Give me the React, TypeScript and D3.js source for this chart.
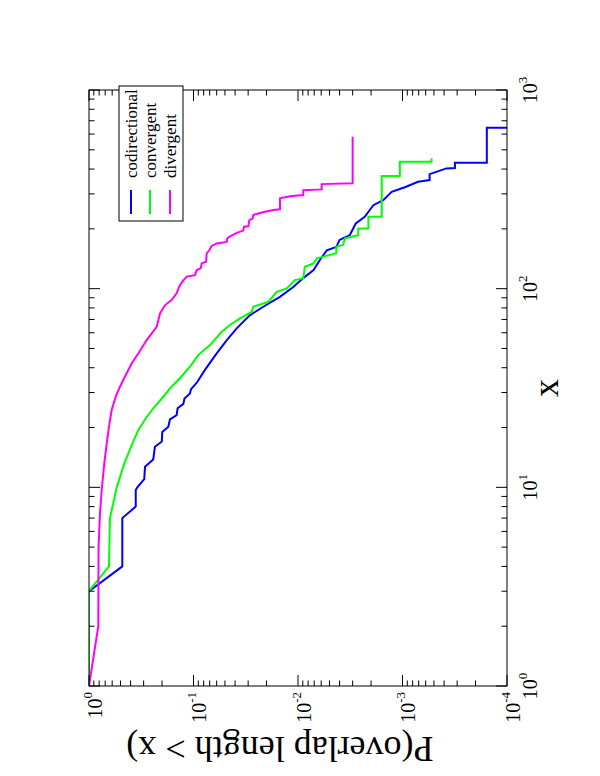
import React from 'react';
import * as d3 from 'd3';

// picture is a landscape xmgrace plot turned 90deg on the page
const W = 600, H = 776;

// [overlap length x, P(overlap length > x)]
const codirectional: [number, number][] = [
  [1, 1], [3, 1], [4, 0.48], [7, 0.48], [8, 0.357], [9.7, 0.357], [10, 0.345], [11, 0.296],
  [12.7, 0.291], [13.8, 0.243], [16, 0.234], [17, 0.201], [19, 0.199], [20.2, 0.174], [22, 0.168],
  [23.1, 0.145], [25, 0.142], [26.3, 0.125], [28, 0.122], [29.7, 0.108], [31.1, 0.106], [33.6, 0.093],
  [38.9, 0.078], [47.2, 0.06], [55.1, 0.048], [63.1, 0.0386], [73.6, 0.0288], [81.1, 0.0215],
  [91, 0.0149], [102, 0.0111], [113, 0.0089], [124, 0.0071], [139, 0.0062], [156, 0.0053],
  [162, 0.0043], [176, 0.004], [186, 0.0032], [213, 0.0028], [230, 0.0023], [263, 0.0019],
  [279, 0.00153], [307, 0.00127], [324, 0.00095], [345, 0.00071], [352, 0.00055], [377, 0.00055],
  [403, 0.00038], [405, 0.000315], [430, 0.000315], [430, 0.000156], [645, 0.000156], [645, 0.00001]
];

const convergent: [number, number][] = [
  [1, 1], [3, 1], [4, 0.644], [7, 0.63], [10, 0.543], [13.2, 0.459], [16.3, 0.39], [19.4, 0.3375],
  [22.2, 0.287], [25, 0.2425], [28, 0.201], [31.5, 0.168], [35.4, 0.135], [40.5, 0.108], [46.3, 0.09],
  [52, 0.0695], [60.7, 0.0537], [65.6, 0.0448], [70.9, 0.0359], [76.5, 0.0277], [81.1, 0.0268],
  [85.9, 0.0192], [96.4, 0.016], [100.3, 0.0128], [110.5, 0.0107], [112.7, 0.0089], [128.9, 0.0086],
  [134.1, 0.0071], [142.1, 0.0066], [150.6, 0.0043], [162.5, 0.0043], [166, 0.0037], [179, 0.00355],
  [182, 0.00318], [186, 0.00265], [201, 0.00265], [201, 0.00212], [230, 0.00212], [230, 0.00158],
  [369, 0.00158], [369, 0.00106], [435, 0.00106], [435, 0.000527], [454, 0.000527]
];

const divergent: [number, number][] = [
  [1, 1], [2, 0.815], [5, 0.81], [7.4, 0.785], [9.7, 0.756], [13.2, 0.714], [16.6, 0.677],
  [20.2, 0.644], [24.5, 0.607], [28.6, 0.555], [32.1, 0.505], [34.7, 0.47], [42.1, 0.39],
  [47.2, 0.3375], [55.1, 0.2805], [59.6, 0.251], [64.3, 0.225], [75.1, 0.209], [82.7, 0.187],
  [87.6, 0.162], [94.7, 0.145], [104, 0.135], [110, 0.125], [115, 0.116], [117, 0.0967],
  [124, 0.0932], [126.5, 0.0853], [134, 0.0835], [136.6, 0.0759], [150.6, 0.0748], [156, 0.0706],
  [164, 0.067], [169, 0.06], [172, 0.0481], [179, 0.0475], [184, 0.0441], [191, 0.0386],
  [196, 0.0334], [205, 0.0329], [206, 0.0299], [221, 0.0292], [226, 0.0271], [235, 0.0268],
  [239, 0.024], [244, 0.0207], [249, 0.0172], [251, 0.01487], [285, 0.01487], [292, 0.01193],
  [296, 0.0089], [313, 0.0089], [316, 0.00593], [336, 0.00593], [339, 0.003], [581, 0.003]
];

const seriesNames = ['codirectional', 'convergent', 'divergent'];
const seriesData = [codirectional, convergent, divergent];
const seriesColors = ['#0000ff', '#00ff00', '#ff00ff'];

const xTickExps = [0, 1, 2, 3];
const yTickExps = [0, -1, -2, -3, -4];

const FONT = '"Liberation Serif", "Times New Roman", serif';

export default function App() {
  // local (unrotated) frame: 776 wide, 600 tall
  const left = 90, right = 686, top = 89, bottom = 507;
  const x = d3.scaleLog().domain([1, 1000]).range([left, right]);
  const y = d3.scaleLog().domain([1e-4, 1]).range([bottom, top]);

  const line = d3.line<[number, number]>()
    .x(d => x(d[0]))
    .y(d => y(d[1]));

  const minor = (lo: number, hi: number) => {
    const out: number[] = [];
    for (let e = lo; e < hi; e++) for (let k = 2; k <= 9; k++) out.push(k * Math.pow(10, e));
    return out;
  };
  const xMinor = minor(0, 3);
  const yMinor = minor(-4, 0);
  const MAJ = 11, MIN = 5.5;

  const legendRows = [131, 150, 170];

  return (
    <svg width={W} height={H} style={{ position: 'absolute', left: 0, top: 0 }} fontFamily={FONT}>
      <rect width={W} height={H} fill="white" />
      <g transform={`translate(0,${H}) rotate(-90)`}>
        <defs>
          <clipPath id="plotclip">
            <rect x={left} y={top} width={right - left} height={bottom - top} />
          </clipPath>
        </defs>

        <g clipPath="url(#plotclip)">
          {seriesData.map((s, i) => (
            <path key={i} d={line(s) || ''} fill="none" stroke={seriesColors[i]} strokeWidth={2} />
          ))}
        </g>

        <g stroke="black" strokeWidth={1}>
          {xTickExps.map(e => {
            const px = x(Math.pow(10, e));
            return (
              <g key={'xM' + e}>
                <line x1={px} x2={px} y1={bottom} y2={bottom - MAJ} />
                <line x1={px} x2={px} y1={top} y2={top + MAJ} />
              </g>
            );
          })}
          {xMinor.map((v, i) => (
            <g key={'xm' + i}>
              <line x1={x(v)} x2={x(v)} y1={bottom} y2={bottom - MIN} />
              <line x1={x(v)} x2={x(v)} y1={top} y2={top + MIN} />
            </g>
          ))}
          {yTickExps.map(e => {
            const py = y(Math.pow(10, e));
            return (
              <g key={'yM' + e}>
                <line x1={left} x2={left + MAJ} y1={py} y2={py} />
                <line x1={right} x2={right - MAJ} y1={py} y2={py} />
              </g>
            );
          })}
          {yMinor.map((v, i) => (
            <g key={'ym' + i}>
              <line x1={left} x2={left + MIN} y1={y(v)} y2={y(v)} />
              <line x1={right} x2={right - MIN} y1={y(v)} y2={y(v)} />
            </g>
          ))}
          <rect x={left} y={top} width={right - left} height={bottom - top} fill="none" />
        </g>

        {xTickExps.map(e => (
          <text key={'xl' + e} x={x(Math.pow(10, e))} y={537} textAnchor="middle" fontSize={20}>
            10<tspan fontSize={13} dy={-10}>{e}</tspan>
          </text>
        ))}
        {yTickExps.map(e => (
          <text key={'yl' + e} x={84} y={y(Math.pow(10, e)) + 12.5} textAnchor="end" fontSize={20}>
            10<tspan fontSize={13} dy={-10}>{e}</tspan>
          </text>
        ))}

        <text x={(left + right) / 2} y={558} textAnchor="middle" fontSize={36}>x</text>
        <text transform={`translate(39,280) rotate(-90)`} textAnchor="middle" fontSize={36}>
          P(overlap length &gt; x)
        </text>

        <g>
          <rect x={555} y={119} width={135} height={64} fill="white" stroke="black" strokeWidth={1} />
          {seriesNames.map((n, i) => (
            <g key={n}>
              <line x1={562} x2={586} y1={legendRows[i]} y2={legendRows[i]} stroke={seriesColors[i]} strokeWidth={2} />
              <text x={598} y={legendRows[i] + 6} fontSize={17}>{n}</text>
            </g>
          ))}
        </g>
      </g>
    </svg>
  );
}
